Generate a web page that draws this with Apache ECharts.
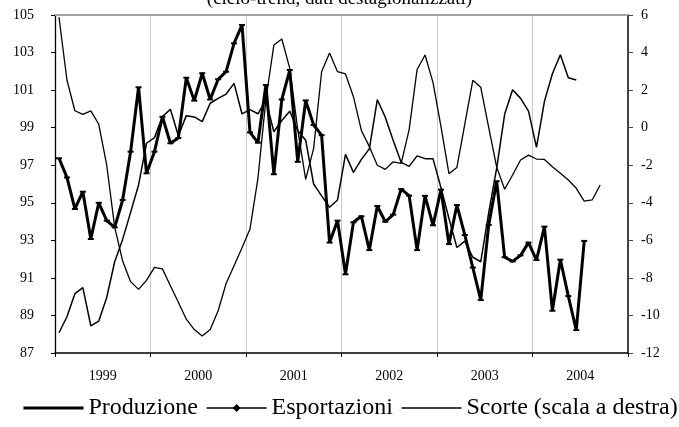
<!DOCTYPE html>
<html style="height: 100%">
<head>
  <meta charset="utf-8">
  <script src="https://cdn.jsdelivr.net/npm/echarts@6/dist/echarts.min.js"></script>
</head>
<body style="height: 100%; margin: 0; background: #fff">
<div id="chart" style="width: 679px; height: 427px"></div>
<script>
  // anni sull'asse x, dati mensili gen 1999 - dic 2004
  var years = ['1999', '2000', '2001', '2002', '2003', '2004'];

  // indici (scala sinistra)
  var produzione = [
    97.37, 96.35, 94.67, 95.59, 93.07, 95.0, 94.05, 93.69, 95.15, 97.72, 101.15, 96.57,
    97.72, 99.58, 98.17, 98.45, 101.66, 100.44, 101.9, 100.5, 101.58, 101.98, 103.49, 104.47,
    98.75, 98.2, 101.27, 96.52, 100.5, 102.07, 97.18, 100.45, 99.14, 98.6, 92.88, 94.05,
    91.19, 93.96, 94.28, 92.48, 94.83, 93.99, 94.37, 95.73, 95.38, 92.48, 95.37, 93.8,
    95.7, 92.8, 94.88, 93.28, 91.55, 89.82, 93.82, 96.15, 92.1, 91.88, 92.2, 92.88,
    91.95, 93.73, 89.25, 91.97, 90.03, 88.22, 92.97, null, null, null, null, null
  ];
  var esportazioni = [
    88.08, 88.93, 90.16, 90.48, 88.45, 88.7, 89.96, 91.86, 93.05, 94.49, 95.95, 98.17,
    98.47, 99.59, 99.98, 98.57, 99.64, 99.57, 99.32, 100.3, 100.56, 100.79, 101.36, 99.73,
    99.96, 99.74, 100.47, 98.78, 99.38, 99.88, 98.85, 98.33, 96.0, 95.37, 94.76, 95.15,
    97.58, 96.62, 97.31, 97.87, 100.49, 99.56, 98.32, 97.15, 96.94, 97.5, 97.35, 97.34,
    95.8, 94.17, 92.62, 92.96, 92.1, 91.86, 94.48, 96.84, 99.71, 101.02, 100.56, 99.88,
    97.95, 100.4, 101.87, 102.88, 101.66, 101.54, null, null, null, null, null, null
  ];
  // scorte (scala destra)
  var scorte = [
    5.88, 2.54, 0.9, 0.71, 0.89, 0.18, -2.0, -5.3, -7.1, -8.2, -8.61, -8.13,
    -7.44, -7.52, -8.42, -9.3, -10.2, -10.75, -11.1, -10.75, -9.75, -8.3, -7.35, -6.4,
    -5.4, -2.7, 1.5, 4.4, 4.72, 3.16, -0.1, -2.75, -1.1, 2.98, 3.97, 2.98,
    2.86, 1.65, -0.15, -1.01, -2.0, -2.22, -1.82, -1.9, -0.1, 3.1, 3.87, 2.4,
    0.05, -2.45, -2.12, 0.2, 2.52, 2.15, 0.0, -2.1, -3.28, -2.52, -1.72, -1.46,
    -1.67, -1.69, -2.08, -2.43, -2.79, -3.23, -3.91, -3.85, -3.05, null, null, null
  ];

  var months = [];
  years.forEach(function (y) {
    for (var m = 1; m <= 12; m++) months.push(y + '-' + (m < 10 ? '0' + m : m));
  });

  var font = 'Liberation Serif';
  var myChart = echarts.init(document.getElementById('chart'));

  var option = {
    animation: false,
    backgroundColor: '#fff',
    textStyle: {fontFamily: font, color: '#000'},
    title: {
      text: '(ciclo-trend, dati destagionalizzati)',
      left: 'center',
      top: -10,
      padding: 0,
      textStyle: {fontFamily: font, fontSize: 19, fontWeight: 'normal', color: '#000'}
    },
    legend: {
      top: 396,
      left: 22,
      padding: 0,
      itemWidth: 60,
      itemHeight: 10,
      itemGap: 8,
      textStyle: {fontFamily: font, fontSize: 24, color: '#000'},
      data: [
        {name: 'Produzione', itemStyle: {opacity: 0}, lineStyle: {width: 3}},
        {name: 'Esportazioni', lineStyle: {width: 1.5}},
        {name: 'Scorte (scala a destra)', itemStyle: {opacity: 0}, lineStyle: {width: 1.3}}
      ]
    },
    grid: {left: 55, right: 51, top: 15, bottom: 74},
    xAxis: [{
      // mesi: porta le serie
      type: 'category',
      data: months,
      axisLine: {onZero: false, lineStyle: {color: '#000', width: 1.5}},
      axisTick: {show: false},
      axisLabel: {show: false},
      splitLine: {show: false}
    }, {
      // anni: etichette, tacche e griglia
      type: 'category',
      data: years,
      position: 'bottom',
      axisLine: {show: false, onZero: false},
      axisTick: {show: true, length: 4, interval: 0, lineStyle: {color: '#000'}},
      axisLabel: {margin: 16, fontSize: 14, fontFamily: font, color: '#000'},
      splitLine: {show: true, interval: 0, lineStyle: {color: '#c8c8c8', width: 1}}
    }, {
      // bordo superiore
      type: 'category',
      data: months,
      position: 'top',
      axisLine: {onZero: false, lineStyle: {color: '#a0a0a0', width: 2}},
      axisTick: {show: false},
      axisLabel: {show: false}
    }],
    yAxis: [{
      type: 'value',
      min: 87,
      max: 105,
      interval: 2,
      axisLine: {show: true, lineStyle: {color: '#000', width: 1.3}},
      axisTick: {show: true, length: 4, lineStyle: {color: '#000'}},
      axisLabel: {margin: 21, fontSize: 14, fontFamily: font, color: '#000'},
      splitLine: {show: false}
    }, {
      type: 'value',
      min: -12,
      max: 6,
      interval: 2,
      axisLine: {show: true, lineStyle: {color: '#444', width: 2}},
      axisTick: {show: true, length: 5, lineStyle: {color: '#444'}},
      axisLabel: {margin: 13, fontSize: 14, fontFamily: font, color: '#000'},
      splitLine: {show: false}
    }],
    series: [{
      name: 'Produzione',
      type: 'line',
      data: produzione,
      symbol: 'rect',
      symbolSize: [6, 2],
      itemStyle: {color: '#000'},
      lineStyle: {color: '#000', width: 3},
      z: 4
    }, {
      name: 'Esportazioni',
      type: 'line',
      data: esportazioni,
      symbol: 'diamond',
      symbolSize: 8,
      itemStyle: {color: '#000'},
      lineStyle: {color: '#000', width: 1.5},
      z: 3
    }, {
      name: 'Scorte (scala a destra)',
      type: 'line',
      yAxisIndex: 1,
      data: scorte,
      symbol: 'none',
      itemStyle: {color: '#000'},
      lineStyle: {color: '#000', width: 1.3},
      z: 2
    }]
  };

  myChart.setOption(option);
</script>
</body>
</html>
